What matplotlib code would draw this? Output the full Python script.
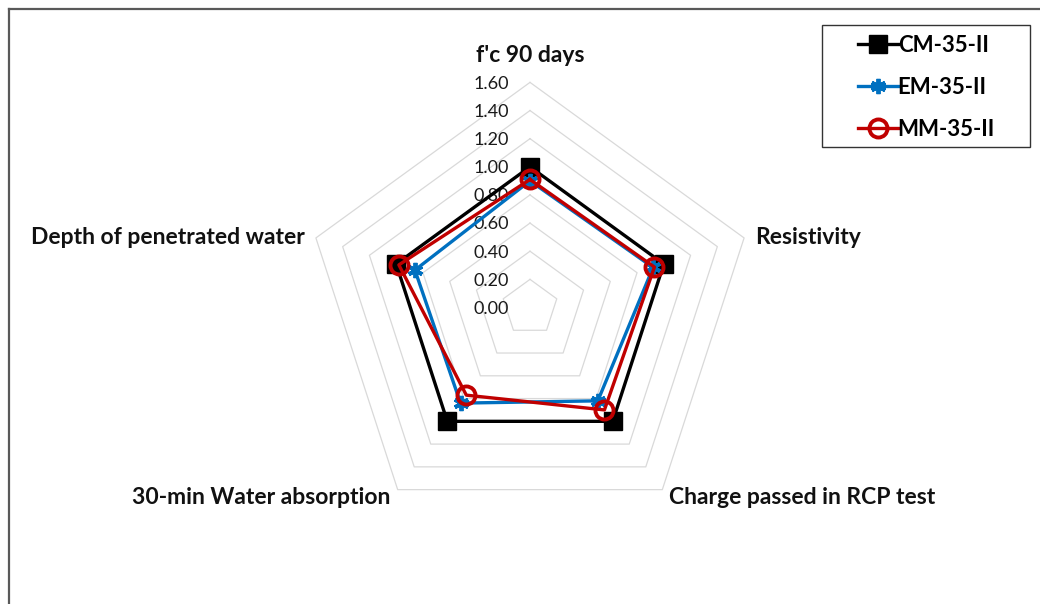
import numpy as np
import matplotlib
matplotlib.use("Agg")
import matplotlib.pyplot as plt
from matplotlib.lines import Line2D
from matplotlib.patches import Rectangle

plt.rcParams['font.family'] = ['Lato', 'DejaVu Sans']

# data
categories = ["f'c 90 days", "Resistivity", "Charge passed in RCP test",
              "30-min Water absorption", "Depth of penetrated water"]
cm_35 = [1.00, 1.00, 1.00, 1.00, 1.00]
em_35 = [0.90, 0.92, 0.82, 0.84, 0.86]
mm_35 = [0.91, 0.93, 0.90, 0.77, 0.98]
ring_levels = [0.2, 0.4, 0.6, 0.8, 1.0, 1.2, 1.4, 1.6]
tick_labels = ["0.00", "0.20", "0.40", "0.60", "0.80", "1.00", "1.20", "1.40", "1.60"]

W, H = 1040, 604
cx, cy = 530, 307.5   # centre in pixels (from top)
scale = 140.7         # pixels per unit

fig = plt.figure(figsize=(W / 100, H / 100), dpi=100)
ax = fig.add_axes([0, 0, 1, 1])
ax.set_xlim(-cx / scale, (W - cx) / scale)
ax.set_ylim(-(H - cy) / scale, cy / scale)
ax.axis('off')

n = len(categories)
ang = np.pi / 2 - np.arange(n) * 2 * np.pi / n


def to_xy(vals):
    v = np.asarray(vals, dtype=float)
    x = v * np.cos(ang)
    y = v * np.sin(ang)
    return np.append(x, x[0]), np.append(y, y[0])


# pentagon grid
for r in ring_levels:
    gx, gy = to_xy([r] * n)
    ax.plot(gx, gy, color='#d9d9d9', lw=0.9, zorder=1)

# tick labels along the top axis
for i, lab in enumerate(tick_labels):
    ax.text(-0.15, i * 0.2 - 0.01, lab, ha='right', va='center', fontsize=13,
            color='#1a1a1a', zorder=2)

# category labels
label_pos = [
    (0, 1.79, 'center', 'center'),
    (1.60, 0.50, 'left', 'center'),
    (0.99, -1.35, 'left', 'center'),
    (-0.99, -1.35, 'right', 'center'),
    (-1.60, 0.50, 'right', 'center'),
]
for cat, (lx, ly, ha, va) in zip(categories, label_pos):
    ax.text(lx, ly, cat, ha=ha, va=va, fontsize=16.5, fontweight='bold',
            color='#111111')

x, y = to_xy(cm_35)
ax.plot(x[:-1], y[:-1], ls='none', marker='s', ms=13, color='black', zorder=3)
ax.plot(x, y, color='black', lw=2.4, zorder=3)
l_cm, = ax.plot([], [], color='black', lw=2.4, marker='s', ms=13, label='CM-35-II')

x, y = to_xy(em_35)
ax.plot(x, y, color='#0070c0', lw=2.4, zorder=4)
ax.plot(x[:-1], y[:-1], ls='none', marker=(6, 2, 0), ms=11, mew=2.8,
        color='#0070c0', zorder=4)
l_em, = ax.plot([], [], color='#0070c0', lw=2.4, marker=(6, 2, 0), ms=11, mew=2.8,
                label='EM-35-II')

x, y = to_xy(mm_35)
ax.plot(x, y, color='#c00000', lw=2.4, zorder=5)
ax.plot(x[:-1], y[:-1], ls='none', marker='o', ms=13, mfc='none', mew=2.8,
        color='#c00000', zorder=5)
l_mm, = ax.plot([], [], color='#c00000', lw=2.4, marker='o', ms=13, mfc='none',
                mew=2.8, label='MM-35-II')

# legend box drawn separately so the padding matches
fig.add_artist(Rectangle((822 / W, 1 - 147 / H), 208 / W, 122 / H,
                         transform=fig.transFigure, fill=False,
                         edgecolor='#333333', lw=1.0))
leg = ax.legend(handles=[l_cm, l_em, l_mm], loc='upper left',
                bbox_to_anchor=(851 / W, 1 - 28 / H),
                borderaxespad=0, borderpad=0.3, frameon=False,
                handlelength=1.8, handletextpad=0.0, labelspacing=0.95,
                prop={'size': 16, 'weight': 'bold'})

# outer chart border (top and left edges visible)
fig.add_artist(Line2D([9 / W, 1], [1 - 9 / H, 1 - 9 / H], color='#595959', lw=1.6))
fig.add_artist(Line2D([9 / W, 9 / W], [0, 1 - 9 / H], color='#595959', lw=1.6))

fig.savefig('out.png', dpi=100)
